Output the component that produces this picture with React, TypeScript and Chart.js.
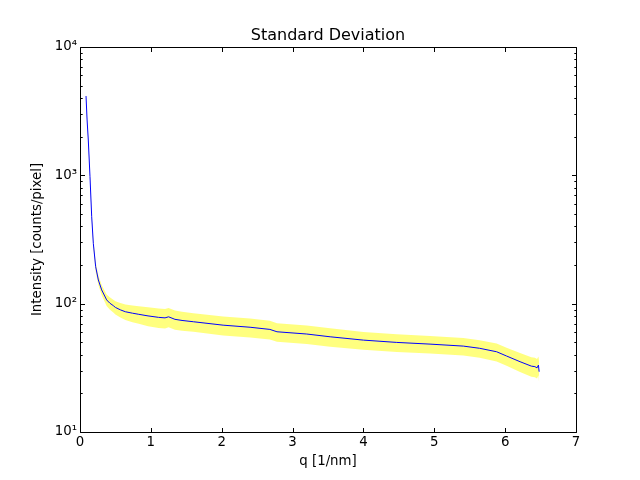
import React, { useEffect, useRef } from "react";
import { Chart, registerables } from "chart.js";

Chart.register(...registerables);

const qValues = [0.085, 0.1, 0.117, 0.141, 0.165, 0.188, 0.221, 0.259, 0.306, 0.376, 0.42, 0.47, 0.5, 0.57, 0.64, 0.74, 0.83, 0.96, 1.11, 1.2, 1.25, 1.34, 1.44, 1.6, 2.02, 2.4, 2.68, 2.78, 3.2, 3.53, 4.0, 4.47, 4.94, 5.41, 5.64, 5.88, 6.02, 6.21, 6.37, 6.42, 6.45, 6.47, 6.48];
const intensity = [4150, 2700, 1885, 977, 476, 295, 194, 153, 128, 107, 101, 96.5, 93.5, 89.5, 86.5, 84.3, 82.6, 80.3, 78.2, 77.5, 79, 75.5, 74, 72.3, 68, 65.5, 63, 60.4, 58, 55.2, 52, 49.9, 48.4, 46.7, 44.9, 42.2, 39.1, 35.3, 32.6, 32.3, 31.6, 33.2, 29.5];
const sigma = [150, 110, 80, 45, 25, 20, 16, 13, 11.5, 11, 11, 11, 11, 11.5, 12, 12.5, 13, 13.5, 13.5, 13.5, 13.5, 13, 12.5, 12, 11.5, 11, 10.5, 10, 9.5, 9, 8.2, 7.8, 7.5, 7.2, 7, 6.7, 6.3, 6, 5.6, 5.6, 5.5, 5.5, 5.5];
const xTicks = [0, 1, 2, 3, 4, 5, 6, 7];
const yTicks = [10, 100, 1000, 10000];
const yTickLabels = ["10\u00b9", "10\u00b2", "10\u00b3", "10\u2074"];

const FONT = "'DejaVu Sans', sans-serif";

const framePlugin = {
  id: "mplFrame",
  afterDraw(chart: any) {
    const { ctx, chartArea } = chart;
    const xs = chart.scales.x;
    const ys = chart.scales.y;
    const l = Math.round(chartArea.left) + 0.5;
    const r = Math.round(chartArea.right) + 0.5;
    const t = Math.round(chartArea.top) + 0.5;
    const b = Math.round(chartArea.bottom) + 0.5;
    ctx.save();
    ctx.strokeStyle = "#000";
    ctx.lineWidth = 1;
    ctx.beginPath();
    ctx.rect(l, t, r - l, b - t);
    ctx.stroke();
    const major = 4.5;
    const minor = 2.2;
    ctx.beginPath();
    for (const v of xTicks) {
      const px = Math.round(xs.getPixelForValue(v)) + 0.5;
      ctx.moveTo(px, b);
      ctx.lineTo(px, b - major);
      ctx.moveTo(px, t);
      ctx.lineTo(px, t + major);
    }
    for (let d = 0; d < yTicks.length; d++) {
      const v = yTicks[d];
      const py = Math.round(ys.getPixelForValue(v)) + 0.5;
      ctx.moveTo(l, py);
      ctx.lineTo(l + major, py);
      ctx.moveTo(r, py);
      ctx.lineTo(r - major, py);
      if (d < yTicks.length - 1) {
        for (let m = 2; m <= 9; m++) {
          const pm = Math.round(ys.getPixelForValue(v * m)) + 0.5;
          ctx.moveTo(l, pm);
          ctx.lineTo(l + minor, pm);
          ctx.moveTo(r, pm);
          ctx.lineTo(r - minor, pm);
        }
      }
    }
    ctx.stroke();
    ctx.restore();
  },
};

export default function App() {
  const ref = useRef<HTMLCanvasElement>(null);
  useEffect(() => {
    document.body.style.margin = "0";
    const upper = qValues.map((q, i) => ({ x: q, y: intensity[i] + sigma[i] }));
    const lower = qValues.map((q, i) => ({ x: q, y: intensity[i] - sigma[i] }));
    const line = qValues.map((q, i) => ({ x: q, y: intensity[i] }));
    const chart = new Chart(ref.current as HTMLCanvasElement, {
      type: "line",
      data: {
        datasets: [
          {
            data: line,
            borderColor: "#0000ff",
            borderWidth: 1,
            pointRadius: 0,
            fill: false,
            tension: 0,
            order: 0,
          },
          {
            data: upper,
            borderWidth: 0,
            borderColor: "rgba(0,0,0,0)",
            backgroundColor: "rgba(255,255,0,0.5)",
            pointRadius: 0,
            fill: "+1",
            tension: 0,
            order: 1,
          },
          {
            data: lower,
            borderWidth: 0,
            borderColor: "rgba(0,0,0,0)",
            pointRadius: 0,
            fill: false,
            tension: 0,
            order: 2,
          },
        ],
      },
      options: {
        animation: false,
        responsive: false,
        layout: { padding: { top: 0, right: 64, left: 0, bottom: 0 } },
        plugins: {
          legend: { display: false },
          tooltip: { enabled: false },
          title: {
            display: true,
            fullSize: false,
            text: "Standard Deviation",
            color: "#000",
            font: { family: FONT, size: 16, weight: "normal", lineHeight: 1.2 },
            padding: { top: 26, bottom: 1.8 },
          },
        },
        scales: {
          x: {
            type: "linear",
            min: 0,
            max: 7,
            grid: { display: false, drawTicks: false },
            border: { display: false },
            afterBuildTicks: (s: any) => {
              s.ticks = xTicks.map((v) => ({ value: v }));
            },
            afterFit: (s: any) => {
              s.height = 48;
            },
            ticks: {
              color: "#000",
              padding: 3,
              font: { family: FONT, size: 13.33 },
              callback: (v: any) => String(v),
            },
            title: {
              display: true,
              text: "q [1/nm]",
              color: "#000",
              font: { family: FONT, size: 13.33, lineHeight: 1.2 },
              padding: { top: 0, bottom: 10 },
            },
          },
          y: {
            type: "logarithmic",
            min: 10,
            max: 10000,
            grid: { display: false, drawTicks: false },
            border: { display: false },
            afterBuildTicks: (s: any) => {
              s.ticks = yTicks.map((v) => ({ value: v }));
            },
            afterFit: (s: any) => {
              s.width = 80;
            },
            ticks: {
              color: "#000",
              padding: 3,
              font: { family: FONT, size: 13.33 },
              callback: (v: any) => {
                const i = yTicks.indexOf(Number(v));
                return i >= 0 ? yTickLabels[i] : "";
              },
            },
            title: {
              display: true,
              text: "Intensity [counts/pixel]",
              color: "#000",
              font: { family: FONT, size: 13.33, lineHeight: 1.2 },
              padding: { top: 30, bottom: 0 },
            },
          },
        },
      },
      plugins: [framePlugin],
    } as any);
    return () => chart.destroy();
  }, []);
  return (
    <div style={{ position: "fixed", left: 0, top: 0, width: 640, height: 480, background: "#fff" }}>
      <canvas ref={ref} width={640} height={480} />
    </div>
  );
}
